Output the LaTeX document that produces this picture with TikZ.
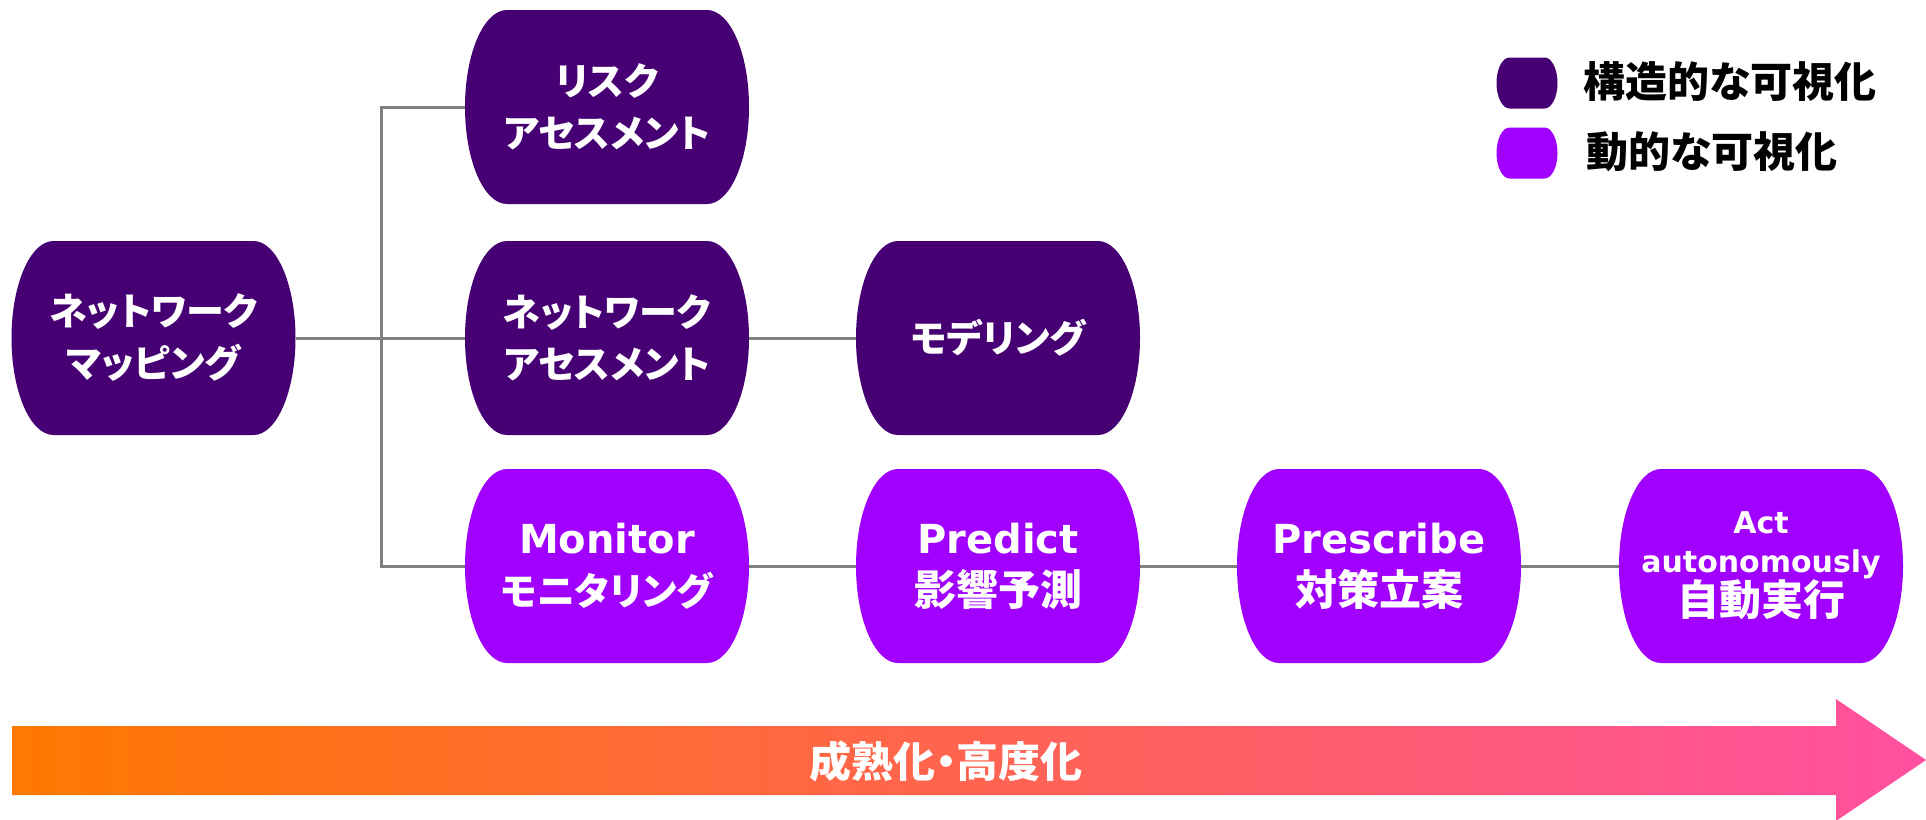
\documentclass[tikz,border=0pt]{standalone}
\usepackage{fontspec}
\setmainfont{DejaVu Sans}
\newfontfamily\jp{Noto Sans CJK JP}[RawFeature=+palt]
\definecolor{dpurple}{HTML}{460073}
\definecolor{bpurple}{HTML}{A100FF}
\definecolor{aorange}{HTML}{FF7800}
\definecolor{apink}{HTML}{FF50A0}
\definecolor{lgray}{HTML}{808080}
\begin{document}
\begin{tikzpicture}[x=1pt,y=-1pt,
  capsule/.style={rectangle, minimum width=284pt, minimum height=194pt, inner sep=0pt,
    align=center, text=white,
    path picture={\fill[#1] ([xshift=42pt]path picture bounding box.north west)
      -- ([xshift=-42pt]path picture bounding box.north east)
      arc[start angle=90,end angle=-90,x radius=42pt,y radius=97pt]
      -- ([xshift=42pt]path picture bounding box.south west)
      arc[start angle=270,end angle=90,x radius=42pt,y radius=97pt] -- cycle;}},
  jpnode/.style={font=\jp\bfseries\fontsize{38}{52}\selectfont},
  mixnode/.style={font=\bfseries\fontsize{40}{52}\selectfont},
  swatch/.style={rectangle, minimum width=61pt, minimum height=51pt, inner sep=0pt,
    path picture={\fill[#1] ([xshift=13pt]path picture bounding box.north west)
      -- ([xshift=-13pt]path picture bounding box.north east)
      arc[start angle=90,end angle=-90,x radius=13pt,y radius=25.5pt]
      -- ([xshift=13pt]path picture bounding box.south west)
      arc[start angle=270,end angle=90,x radius=13pt,y radius=25.5pt] -- cycle;}},
  legtext/.style={anchor=west, inner sep=0pt, font=\jp\bfseries\fontsize{42}{46}\selectfont, text=black},
  conn/.style={draw=lgray, line width=3pt},
]
\useasboundingbox (0,0) rectangle (1926,819);

% nodes
\node[capsule=dpurple, jpnode] (A) at (153.5,338) {ネットワーク\\マッピング};
\node[capsule=dpurple, jpnode] (B) at (607,107) {リスク\\アセスメント};
\node[capsule=dpurple, jpnode] (C) at (607,338) {ネットワーク\\アセスメント};
\node[capsule=dpurple, jpnode] (D) at (998,338) {モデリング};
\node[capsule=bpurple, mixnode] (M) at (607,566) {Monitor\\{\jp\fontsize{38}{52}\selectfont モニタリング}};
\node[capsule=bpurple, mixnode] (P) at (998,566) {Predict\\{\jp\fontsize{42}{52}\selectfont 影響予測}};
\node[capsule=bpurple, mixnode] (S) at (1379,566) {Prescribe\\{\jp\fontsize{42}{52}\selectfont 対策立案}};
\node[capsule=bpurple, font=\bfseries\fontsize{30}{39}\selectfont] (T) at (1761,566) {Act\\autonomously\\{\jp\fontsize{42}{46}\selectfont 自動実行}};

% connectors
\coordinate (j) at (381,338);
\draw[conn] (A.east) -- (C.west);
\draw[conn] (B.west) -| (j) |- (M.west);
\draw[conn] (C.east) -- (D.west);
\draw[conn] (M.east) -- (P.west);
\draw[conn] (P.east) -- (S.west);
\draw[conn] (S.east) -- (T.west);

% legend
\node[swatch=dpurple] (L1) at (1527,83) {};
\node[swatch=bpurple] (L2) at (1527,153) {};
\node[legtext] (L1t) at (1583,82) {構造的な可視化};
\node[legtext] (L2t) at (1586,152) {動的な可視化};

% maturity arrow
\shade[left color=aorange, right color=apink]
  (12,726) -- (1836,726) -- (1836,699) -- (1926,760) -- (1836,821) -- (1836,795) -- (12,795) -- cycle;
\node[font=\jp\bfseries\fontsize{42}{46}\selectfont, text=white] (arr) at (946,761) {成熟化・高度化};
\end{tikzpicture}
\end{document}
